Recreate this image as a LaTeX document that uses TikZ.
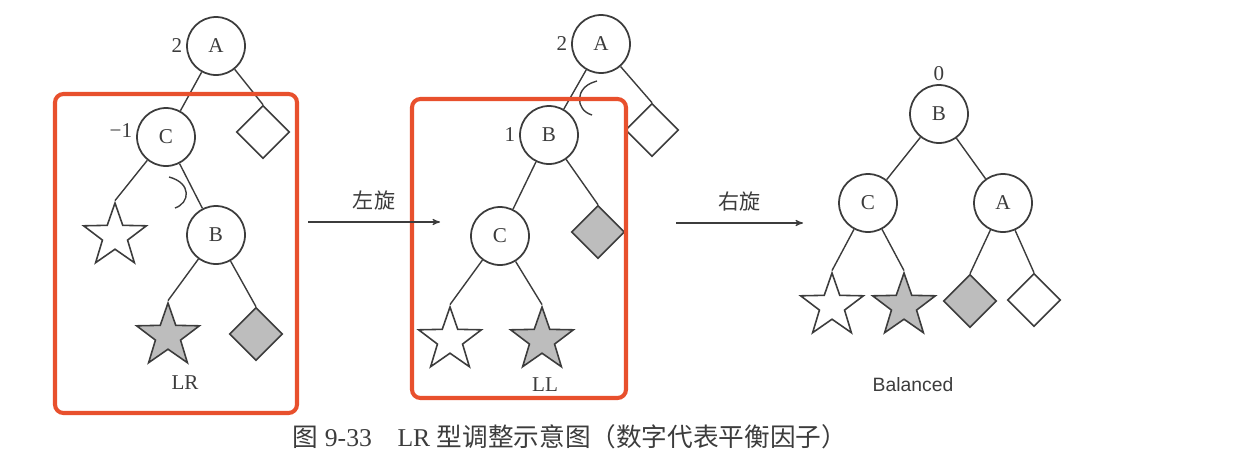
\documentclass[tikz,border=0pt]{standalone}
\usepackage{fontspec}
\setmainfont{Liberation Serif}
\newfontfamily\cjk{Noto Sans CJK SC}
\newfontfamily\balfont{Liberation Sans}
\usepackage{tikz}
\usetikzlibrary{shapes.geometric, positioning, arrows}
\definecolor{ink}{HTML}{3C3C3C}
\definecolor{boxred}{HTML}{E8502D}
\definecolor{shade}{HTML}{BDBDBD}
\tikzset {
    x=0.02cm, y=-0.02cm,
    >=stealth',
    every node/.style={text=ink, font=\fontsize{12}{14}\selectfont},
    tnode/.style={circle, draw=ink, line width=1pt, minimum size=1.16cm, inner sep=0pt},
    wstar/.style={star, star points=5, star point ratio=2.5, draw=ink, line width=0.9pt,
                  minimum size=1.32cm, inner sep=0pt, fill=white},
    gstar/.style={wstar, fill=shade},
    wdia/.style={diamond, draw=ink, line width=0.9pt, minimum width=1.06cm,
                 minimum height=1.06cm, inner sep=0pt, fill=white},
    gdia/.style={wdia, fill=shade},
    bf/.style={text=ink, inner sep=2pt},
    edge/.style={draw=ink, line width=0.8pt},
    hibox/.style={draw=boxred, line width=2.3pt, rounded corners=0.17cm},
    rot/.style={draw=ink, line width=0.8pt}
}

\begin{document}
\begin{tikzpicture}
    \useasboundingbox (0,0) rectangle (1244,460);

    % LR
    \node[tnode, label={[bf]left:2}] (a1) at (216,46) {A};
    \node[tnode] (c1) at (166,137) {C};
    \node[bf, anchor=east] (f1) at (136,131) {−1};
    \node[tnode] (b1) at (216,235) {B};
    \node[wdia] (d1) at (263,132) {};
    \node[wstar] (s1) at (115,236) {};
    \node[gstar] (s2) at (168,336) {};
    \node[gdia] (d2) at (256,334) {};
    \node (lr) at (185,383) {LR};

    \draw[edge] (a1) -- (c1) (a1) -- (d1.north)
                (c1) -- (s1.north) (c1) -- (b1)
                (b1) -- (s2.north) (b1) -- (d2.north);
    \draw[rot] (169,177) .. controls (192,183) and (190,203) .. (175,208);
    \draw[hibox] (55,94) rectangle (297,413);

    % LL
    \node[tnode, label={[bf]left:2}] (a2) at (601,44) {A};
    \node[tnode, label={[bf]left:1}] (b2) at (549,135) {B};
    \node[tnode] (c2) at (500,236) {C};
    \node[wdia] (d3) at (652,130) {};
    \node[gdia] (d4) at (598,232) {};
    \node[wstar] (s3) at (450,340) {};
    \node[gstar] (s4) at (542,340) {};
    \node (ll) at (545,385) {LL};

    \draw[edge] (a2) -- (b2) (a2) -- (d3.north)
                (b2) -- (c2) (b2) -- (d4.north)
                (c2) -- (s3.north) (c2) -- (s4.north);
    \draw[rot] (597,81) -- (594,82) .. controls (575,88) and (575,110) .. (592,115);
    \draw[hibox] (412,99) rectangle (626,398);

    % Balanced
    \node[tnode, label={[bf]above:0}] (b3) at (939,114) {B};
    \node[tnode] (c3) at (868,203) {C};
    \node[tnode] (a3) at (1003,203) {A};
    \node[wstar] (s5) at (832,306) {};
    \node[gstar] (s6) at (904,306) {};
    \node[gdia] (d5) at (970,301) {};
    \node[wdia] (d6) at (1034,300) {};
    \node[font=\balfont\fontsize{11}{13}\selectfont] (bal) at (913,385) {Balanced};

    \draw[edge] (b3) -- (c3) (b3) -- (a3)
                (c3) -- (s5.north) (c3) -- (s6.north)
                (a3) -- (d5.north) (a3) -- (d6.north);

    % rotations
    \coordinate (l0) at (308,222);
    \coordinate (l1) at (440,222);
    \coordinate (r0) at (676,223);
    \coordinate (r1) at (803,223);
    \draw[->, draw=ink, line width=0.6pt] (l0) -- node[above=3pt, font=\cjk\fontsize{12}{14}\selectfont] {左旋} (l1);
    \draw[->, draw=ink, line width=0.6pt] (r0) -- node[above=3pt, font=\cjk\fontsize{12}{14}\selectfont] {右旋} (r1);

    \node[font=\fontsize{14.6}{17}\selectfont] (cap) at (570,437)
        {{\cjk 图} 9-33\quad LR {\cjk 型调整示意图（数字代表平衡因子）}};
\end{tikzpicture}
\end{document}
